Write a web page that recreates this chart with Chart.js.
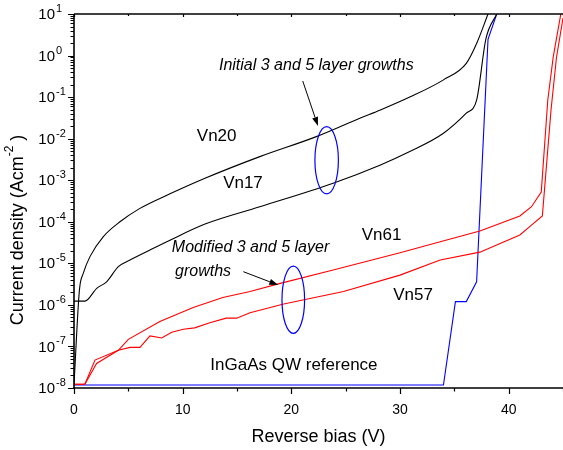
<!DOCTYPE html>
<html><head><meta charset="utf-8">
<script src="https://cdn.jsdelivr.net/npm/chart.js@4/dist/chart.umd.min.js"></script>
<style>html,body{margin:0;padding:0;background:#fff;overflow:hidden}</style>
</head><body>
<canvas id="c" width="563" height="450"></canvas>
<script>
// ---- data (reverse bias V, current density A/cm^2) ----
const vn20V = [0, 0.5, 0.86, 1.47, 2.7, 4.23, 6.07, 8.83, 12.0, 17.1, 22.3, 26.3, 28.2, 30.9, 34.0, 36.1, 37.05, 38.1];
const vn20J = [1.2e-8, 2.3e-6, 5.8e-6, 1.45e-5, 4.4e-5, 1.0e-4, 2.1e-4, 4.7e-4, 1.1e-3, 3.7e-3, 1.12e-2, 3.1e-2, 4.9e-2, 0.10, 0.26, 0.65, 1.95, 10];

const vn17V = [0, 1.0, 2.09, 3.0, 4.08, 5.15, 7.0, 8.83, 12.0, 17.1, 23.85, 28.15, 30.9, 34.0, 36.1, 37.05, 37.9, 38.9];
const vn17J = [1.23e-6, 1.23e-6, 2.5e-6, 3.6e-6, 8.3e-6, 1.2e-5, 2.1e-5, 3.6e-5, 8.7e-5, 2.3e-4, 8.5e-4, 2.3e-3, 4.9e-3, 1.35e-2, 4.1e-2, 8.5e-2, 2.5, 10];

const vn61V = [0, 1.0, 2.08, 4.08, 5.0, 7.9, 10.97, 13.7, 16.2, 18.8, 23.85, 30.0, 33.7, 37.35, 41.03, 42.1, 43.0, 43.6, 44.1, 44.8];
const vn61J = [1.23e-8, 1.23e-8, 3.9e-8, 8.1e-8, 1.48e-7, 4.0e-7, 8.7e-7, 1.5e-6, 2.1e-6, 3.2e-6, 6.9e-6, 1.8e-5, 3.3e-5, 6.0e-5, 1.38e-4, 2.3e-4, 5.2e-4, 8.5e-2, 0.93, 10];

const vn57V = [0, 1.0, 1.93, 4.08, 5.15, 6.07, 6.99, 8.07, 8.99, 10.06, 11.1, 12.5, 14.0, 14.97, 16.2, 19.3, 24.8, 30.0, 33.7, 37.35, 41.03, 42.1, 43.1, 43.9, 44.4, 45.0];
const vn57J = [1.23e-8, 1.23e-8, 4.7e-8, 8.1e-8, 9.5e-8, 9.5e-8, 1.8e-7, 1.6e-7, 2.2e-7, 2.6e-7, 2.8e-7, 3.7e-7, 4.8e-7, 4.8e-7, 6.5e-7, 1.05e-6, 2.1e-6, 5.2e-6, 1.2e-5, 1.86e-5, 4.8e-5, 8.3e-5, 1.38e-4, 5e-2, 0.9, 8];

const refV = [0, 34.0, 35.1, 36.1, 37.05, 38.1, 38.9];
const refJ = [1.18e-8, 1.18e-8, 1.2e-6, 1.2e-6, 3.6e-6, 2.45, 10];

const xTickLabels = [0, 10, 20, 30, 40];
const yTickExponents = [-8, -7, -6, -5, -4, -3, -2, -1, 0, 1];

const xTitle = 'Reverse bias (V)';
const yTitleMain = 'Current density (Acm';
const yTitleSup = '-2';
const yTitleEnd = ' )';

// annotations (in data coordinates)
const notes = [
  {t: 'Initial 3 and 5 layer growths', v: 22.3, j: 0.59, italic: true, align: 'center'},
  {t: 'Vn20', v: 13.13, j: 0.0112, italic: false, align: 'center'},
  {t: 'Vn17', v: 15.55, j: 8.6e-4, italic: false, align: 'center'},
  {t: 'Modified 3 and 5 layer', v: 9.0, j: 2.34e-5, italic: true, align: 'left'},
  {t: 'growths', v: 9.3, j: 6.2e-6, italic: true, align: 'left'},
  {t: 'Vn61', v: 28.31, j: 4.8e-5, italic: false, align: 'center'},
  {t: 'Vn57', v: 31.2, j: 1.73e-6, italic: false, align: 'center'},
  {t: 'InGaAs QW reference', v: 20.24, j: 3.58e-8, italic: false, align: 'center'}
];
const arrows = [
  {v1: 21.05, j1: 0.244, v2: 22.45, j2: 0.0202},
  {v1: 15.58, j1: 6.3e-6, v2: 18.8, j2: 3.0e-6}
];
const ellipses = [
  {v: 23.25, dv: 1.08, jTop: 0.0195, jBot: 4.67e-4},
  {v: 20.18, dv: 1.04, jTop: 8.6e-6, jBot: 2.06e-7}
];

const FONT = '"Liberation Sans", Arial, sans-serif';
const pts = (xs, ys) => xs.map((v, i) => ({x: v, y: ys[i]}));

const frame = {
  id: 'frame',
  afterDraw(chart) {
    const {ctx, chartArea: a, scales: {x, y}} = chart;
    ctx.save();
    ctx.strokeStyle = '#000';
    ctx.fillStyle = '#000';
    ctx.lineWidth = 1.6;
    ctx.beginPath();
    ctx.moveTo(a.left, a.top); ctx.lineTo(a.left, a.bottom + 1);
    ctx.moveTo(a.left - 1, a.bottom); ctx.lineTo(a.right, a.bottom);
    ctx.stroke();
    ctx.lineWidth = 1.3;
    ctx.beginPath();
    ctx.moveTo(a.left, a.top); ctx.lineTo(a.right, a.top);
    ctx.stroke();
    ctx.lineWidth = 1.2;
    ctx.beginPath();
    for (let v = 0; v <= 45; v += 5) {
      const px = Math.round(x.getPixelForValue(v)) + 0.5;
      const major = v % 10 === 0;
      ctx.moveTo(px, a.bottom); ctx.lineTo(px, a.bottom + (major ? 6 : 3.5));
      ctx.moveTo(px, a.top); ctx.lineTo(px, a.top + (major ? 3 : 2));
    }
    ctx.stroke();
    ctx.lineWidth = 1;
    ctx.beginPath();
    for (const p of yTickExponents) {
      const py = Math.round(y.getPixelForValue(Math.pow(10, p))) + 0.5;
      ctx.moveTo(a.left - 6, py); ctx.lineTo(a.left, py);
      if (p < 1) {
        for (let m = 2; m <= 9; m++) {
          const pm = Math.round(y.getPixelForValue(m * Math.pow(10, p))) + 0.5;
          ctx.moveTo(a.left - 3.5, pm); ctx.lineTo(a.left, pm);
        }
      }
    }
    ctx.stroke();
    ctx.font = '14px ' + FONT;
    ctx.textAlign = 'center';
    ctx.textBaseline = 'middle';
    for (const v of xTickLabels) {
      ctx.fillText(String(v), x.getPixelForValue(v), a.bottom + 22);
    }
    for (const p of yTickExponents) {
      const py = y.getPixelForValue(Math.pow(10, p));
      ctx.font = '15px ' + FONT;
      ctx.textAlign = 'right';
      ctx.textBaseline = 'middle';
      ctx.fillText('10', 55, py + 1);
      ctx.font = '11px ' + FONT;
      ctx.textAlign = 'left';
      ctx.fillText(p < 0 ? '-' + Math.abs(p) : String(p), 56, py - 5);
    }
    ctx.font = '18px ' + FONT;
    ctx.textAlign = 'center';
    ctx.textBaseline = 'middle';
    ctx.fillText(xTitle, (a.left + a.right) / 2, 437);
    ctx.save();
    ctx.translate(18, 230);
    ctx.rotate(-Math.PI / 2);
    ctx.font = '18px ' + FONT;
    const w1 = ctx.measureText(yTitleMain).width;
    ctx.font = '12px ' + FONT;
    const w2 = ctx.measureText(yTitleSup).width;
    ctx.font = '18px ' + FONT;
    const w3 = ctx.measureText(yTitleEnd).width;
    let sx = -(w1 + w2 + w3) / 2;
    ctx.textAlign = 'left';
    ctx.textBaseline = 'middle';
    ctx.fillText(yTitleMain, sx, 0);
    ctx.font = '12px ' + FONT;
    ctx.fillText(yTitleSup, sx + w1, -8);
    ctx.font = '18px ' + FONT;
    ctx.fillText(yTitleEnd, sx + w1 + w2, 0);
    ctx.restore();
    ctx.textBaseline = 'middle';
    for (const n of notes) {
      ctx.font = (n.italic ? 'italic 16px ' : '17px ') + FONT;
      ctx.textAlign = n.align;
      ctx.fillText(n.t, x.getPixelForValue(n.v), y.getPixelForValue(n.j));
    }
    ctx.lineWidth = 1;
    for (const ar of arrows) {
      const x1 = x.getPixelForValue(ar.v1), y1 = y.getPixelForValue(ar.j1);
      const x2 = x.getPixelForValue(ar.v2), y2 = y.getPixelForValue(ar.j2);
      const ang = Math.atan2(y2 - y1, x2 - x1);
      const L = 9, W = 3;
      ctx.beginPath();
      ctx.moveTo(x1, y1);
      ctx.lineTo(x2 - L * Math.cos(ang), y2 - L * Math.sin(ang));
      ctx.stroke();
      ctx.beginPath();
      ctx.moveTo(x2, y2);
      ctx.lineTo(x2 - L * Math.cos(ang) + W * Math.sin(ang), y2 - L * Math.sin(ang) - W * Math.cos(ang));
      ctx.lineTo(x2 - L * Math.cos(ang) - W * Math.sin(ang), y2 - L * Math.sin(ang) + W * Math.cos(ang));
      ctx.closePath();
      ctx.fill();
    }
    ctx.strokeStyle = '#0000ff';
    ctx.lineWidth = 1.2;
    for (const e of ellipses) {
      const cx = x.getPixelForValue(e.v);
      const rx = x.getPixelForValue(e.v + e.dv) - cx;
      const yt = y.getPixelForValue(e.jTop), yb = y.getPixelForValue(e.jBot);
      ctx.beginPath();
      ctx.ellipse(cx, (yt + yb) / 2, rx, (yb - yt) / 2, 0, 0, Math.PI * 2);
      ctx.stroke();
    }
    ctx.restore();
  }
};

const ds = (label, xs, ys, color, order, smooth) => ({
  label, data: pts(xs, ys), borderColor: color, backgroundColor: color,
  borderWidth: 1.1, pointRadius: 0, fill: false, order,
  cubicInterpolationMode: smooth ? 'monotone' : 'default', tension: 0
});

new Chart(document.getElementById('c'), {
  type: 'line',
  data: {
    datasets: [
      ds('Vn20', vn20V, vn20J, '#000000', 1, true),
      ds('Vn17', vn17V, vn17J, '#000000', 1, true),
      ds('Vn61', vn61V, vn61J, '#ff0000', 2, false),
      ds('Vn57', vn57V, vn57J, '#ff0000', 2, false),
      ds('InGaAs QW reference', refV, refJ, '#0000ff', 3, false)
    ]
  },
  options: {
    responsive: false,
    animation: false,
    layout: {padding: {left: 74, right: 0, top: 14, bottom: 62}},
    plugins: {legend: {display: false}, tooltip: {enabled: false}},
    scales: {
      x: {type: 'linear', display: false, min: 0, max: 45},
      y: {type: 'logarithmic', display: false, min: 1e-8, max: 10}
    }
  },
  plugins: [frame]
});
</script>
</body></html>
